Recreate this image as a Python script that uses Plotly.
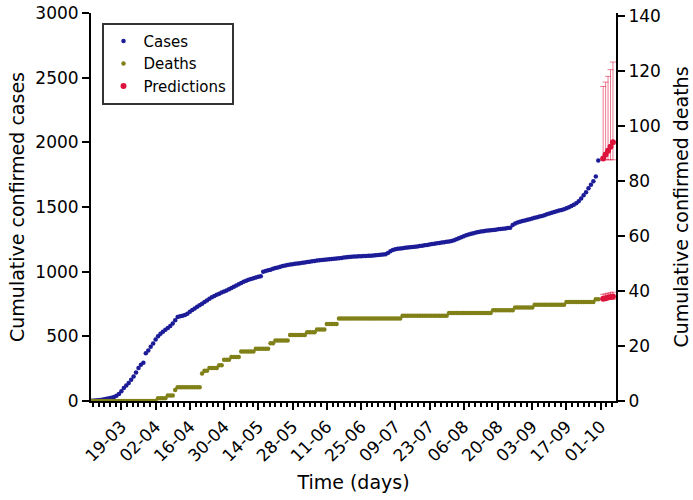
import pandas as pd
import plotly.graph_objects as go

# daily cumulative counts, 07-03-2020 .. 30-09-2020
start_date = "2020-03-07"

cases = [
    # March 7-31
    2, 3, 5, 7, 10, 13, 17, 21, 25, 30, 40, 55, 75, 100, 120, 140, 165, 190, 220, 255,
    280, 295, 370, 390, 420,
    # April
    445, 475, 500, 520, 535, 550, 565, 580, 600, 625, 650, 655, 660, 665, 675, 690, 703, 715, 728, 740,
    752, 765, 778, 790, 803, 812, 822, 830, 838, 846,
    # May
    855, 864, 874, 884, 894, 903, 912, 922, 930, 937, 943, 950, 955, 960, 965, 1000, 1005, 1010, 1015, 1022,
    1028, 1033, 1038, 1043, 1047, 1051, 1055, 1058, 1061, 1064, 1066,
    # June
    1068, 1071, 1074, 1077, 1080, 1083, 1086, 1088, 1090, 1092, 1094, 1096, 1097, 1099, 1101, 1103, 1106, 1109, 1112, 1114,
    1116, 1117, 1118, 1119, 1120, 1121, 1122, 1123, 1124, 1125,
    # July
    1126, 1128, 1130, 1132, 1135, 1145, 1158, 1168, 1174, 1178, 1180, 1182, 1184, 1186, 1188, 1190, 1192, 1195, 1198, 1201,
    1204, 1207, 1210, 1213, 1216, 1219, 1222, 1225, 1228, 1231, 1234,
    # August
    1238, 1243, 1250, 1258, 1266, 1274, 1282, 1288, 1293, 1298, 1303, 1307, 1310, 1313, 1316, 1319, 1321, 1323, 1325, 1327,
    1329, 1331, 1334, 1337, 1340, 1360, 1372, 1380, 1386, 1391, 1396,
    # September
    1401, 1406, 1411, 1416, 1421, 1426, 1431, 1437, 1443, 1450, 1456, 1462, 1467, 1472, 1477, 1483, 1490, 1498, 1507, 1517,
    1529, 1545, 1565, 1590, 1615, 1645, 1672, 1700, 1735, 1860,
]

deaths = [
    # March 7-31
    0, 0, 0, 0, 0, 0, 0, 0, 0, 0, 0, 0, 0, 0, 0, 0, 0, 0, 0, 0, 0, 0, 0, 0, 0,
    # April
    0, 0, 1, 1, 1, 1, 2, 2, 2, 4, 5, 5, 5, 5, 5, 5, 5, 5, 5, 5, 10, 11, 11, 12, 12, 12, 12, 13, 13, 15,
    # May
    15, 15, 16, 16, 16, 16, 18, 18, 18, 18, 18, 18, 19, 19, 19, 19, 19, 19, 21, 21, 22, 22, 22, 22, 22, 22,
    24, 24, 24, 24, 24,
    # June
    24, 24, 25, 25, 25, 25, 26, 26, 26, 26, 28, 28, 28, 28, 28, 30, 30, 30, 30, 30, 30, 30, 30, 30, 30, 30,
    30, 30, 30, 30,
    # July
    30, 30, 30, 30, 30, 30, 30, 30, 30, 30, 30, 31, 31, 31, 31, 31, 31, 31, 31, 31, 31, 31, 31, 31, 31, 31,
    31, 31, 31, 31, 32,
    # August
    32, 32, 32, 32, 32, 32, 32, 32, 32, 32, 32, 32, 32, 32, 32, 32, 32, 33, 33, 33, 33, 33, 33, 33, 33, 33,
    34, 34, 34, 34, 34,
    # September
    34, 34, 34, 35, 35, 35, 35, 35, 35, 35, 35, 35, 35, 35, 35, 35, 36, 36, 36, 36, 36, 36, 36, 36, 36, 36,
    36, 36, 37, 37,
]

# model predictions, 02-10 .. 06-10
pred_dates = ["2020-10-02", "2020-10-03", "2020-10-04", "2020-10-05", "2020-10-06"]
pred_cases = [1875, 1905, 1935, 1965, 2000]
pred_cases_hi = [2432, 2466, 2510, 2562, 2621]
pred_cases_lo = [1865, 1865, 1865, 1865, 1865]
pred_deaths = [37.2, 37.4, 37.6, 37.8, 38.0]
pred_deaths_hi = [38.8, 39.0, 39.2, 39.4, 39.6]
pred_deaths_lo = [37, 37, 37, 37, 37]

dates = pd.date_range(start_date, periods=len(cases), freq="D")

FONT = "DejaVu Sans"
BLUE = "#1c1c98"
OLIVE = "#808018"
RED = "#dc143c"
ERR = "rgba(220, 20, 60, 0.55)"

fig = go.Figure()

fig.add_trace(go.Scatter(
    x=dates, y=cases, mode="markers", name="Cases",
    marker=dict(color=BLUE, size=4.5),
))
fig.add_trace(go.Scatter(
    x=dates, y=deaths, mode="markers", name="Deaths", yaxis="y2",
    marker=dict(color=OLIVE, size=4.5),
))
fig.add_trace(go.Scatter(
    x=pred_dates, y=pred_cases, mode="markers", name="Predictions",
    marker=dict(color=RED, size=6),
    error_y=dict(
        type="data", symmetric=False,
        array=[h - v for h, v in zip(pred_cases_hi, pred_cases)],
        arrayminus=[v - l for l, v in zip(pred_cases_lo, pred_cases)],
        color=ERR, thickness=1, width=3,
    ),
))
fig.add_trace(go.Scatter(
    x=pred_dates, y=pred_deaths, mode="markers", name="Predictions", yaxis="y2",
    showlegend=False,
    marker=dict(color=RED, size=6),
    error_y=dict(
        type="data", symmetric=False,
        array=[h - v for h, v in zip(pred_deaths_hi, pred_deaths)],
        arrayminus=[v - l for l, v in zip(pred_deaths_lo, pred_deaths)],
        color=ERR, thickness=1, width=3,
    ),
))

day_ms = 86400000
axis_common = dict(
    showline=True, linecolor="black", linewidth=2,
    ticks="outside", tickcolor="black", tickwidth=2, ticklen=7,
    showgrid=False, zeroline=False,
    tickfont=dict(family=FONT, size=17, color="black"),
)

fig.update_layout(
    width=693, height=500,
    margin=dict(l=91, r=77, t=13, b=99),
    plot_bgcolor="white", paper_bgcolor="white",
    font=dict(family=FONT, color="black"),
    xaxis=dict(
        **axis_common,
        type="date",
        range=["2020-03-06 14:00", "2020-10-07 06:00"],
        tick0="2020-03-19", dtick=14 * day_ms, tickformat="%d-%m",
        tickangle=-45,
        minor=dict(ticks="outside", ticklen=4, tickwidth=2, tickcolor="black",
                   tick0="2020-03-19", dtick=14 * day_ms / 6),
        title=dict(text="Time (days)", font=dict(family=FONT, size=19), standoff=11),
        automargin=False,
    ),
    yaxis=dict(
        **axis_common,
        range=[0, 3000], dtick=500,
        title=dict(text="Cumulative confirmed cases", font=dict(family=FONT, size=19), standoff=6),
        automargin=False,
    ),
    yaxis2=dict(
        **axis_common,
        overlaying="y", side="right", anchor="x",
        range=[0, 141.1], dtick=20,
        title=dict(text="Cumulative confirmed deaths", font=dict(family=FONT, size=19), standoff=15),
        automargin=False,
    ),
    legend=dict(
        x=0.02, y=0.975, xanchor="left", yanchor="top",
        bgcolor="white", bordercolor="#333333", borderwidth=2,
        font=dict(family=FONT, size=15),
        itemwidth=30, tracegroupgap=0,
    ),
    showlegend=True,
)

# page body margin would otherwise shift the whole figure by 8px
fig.write_html(
    "out.html",
    config={"displayModeBar": False},
    post_script="document.body.style.margin = '0px';",
)
